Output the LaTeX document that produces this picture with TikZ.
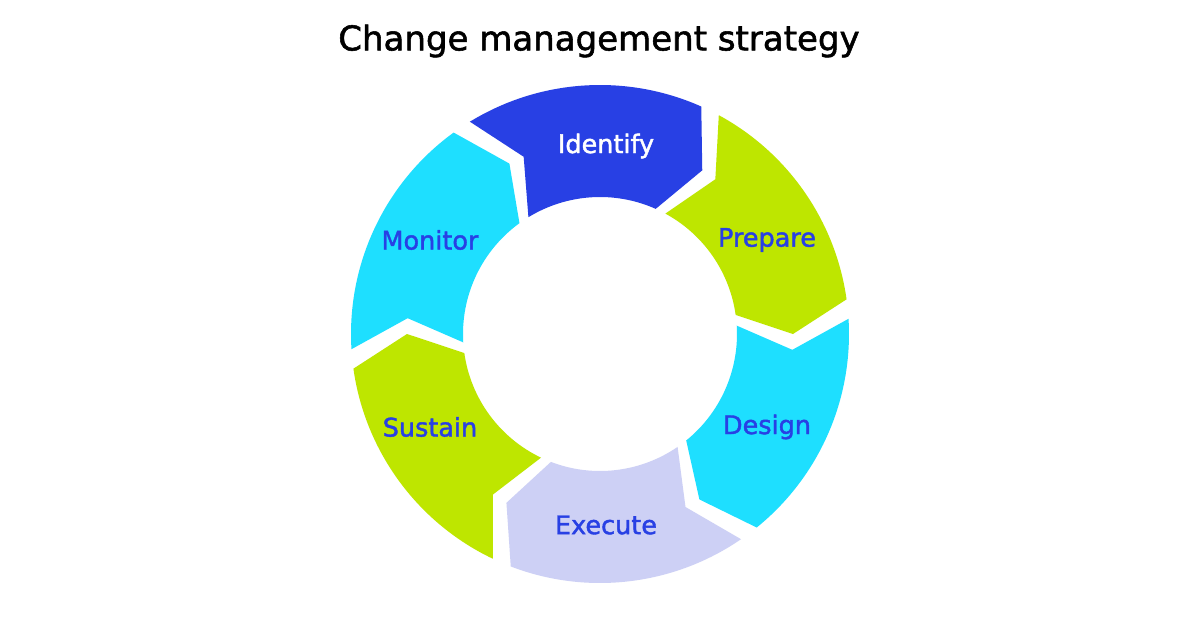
\documentclass[tikz,border=0pt]{standalone}
\usepackage{fontspec}
\setmainfont{DejaVu Sans}
\newfontfamily\medfont{DejaVu Sans}[FakeBold=1.6]
\definecolor{idblue}{RGB}{40,64,228}
\definecolor{limegreen}{RGB}{190,230,0}
\definecolor{skycyan}{RGB}{30,223,255}
\definecolor{paleblue}{RGB}{205,208,245}
\tikzset{
  lbl/.style={text=idblue,font=\medfont\fontsize{25.5}{30}\selectfont},
  heading/.style={text=black,font=\medfont\fontsize{34}{40}\selectfont}
}

\begin{document}
\begin{tikzpicture}[x=1pt,y=1pt]
  \useasboundingbox[fill=white] (-600,-296) rectangle (600,334);
  % ring parts, clockwise
  \fill[idblue] (121.5:249pt) arc[start angle=121.5,end angle=66,radius=249pt] -- (58:193pt) -- (66:137pt) arc[start angle=66,end angle=121.5,radius=137pt] -- (113.3:193pt) -- cycle;
  \fill[limegreen] (61.5:249pt) arc[start angle=61.5,end angle=8,radius=249pt] -- (0:193pt) -- (8:137pt) arc[start angle=8,end angle=61.5,radius=137pt] -- (53.3:193pt) -- cycle;
  \fill[skycyan] (3.5:249pt) arc[start angle=3.5,end angle=-51,radius=249pt] -- (-59:193pt) -- (-51:137pt) arc[start angle=-51,end angle=3.5,radius=137pt] -- (-4.7:193pt) -- cycle;
  \fill[paleblue] (-55.5:249pt) arc[start angle=-55.5,end angle=-111,radius=249pt] -- (-119:193pt) -- (-111:137pt) arc[start angle=-111,end angle=-55.5,radius=137pt] -- (-63.7:193pt) -- cycle;
  \fill[limegreen] (-115.5:249pt) arc[start angle=-115.5,end angle=-172,radius=249pt] -- (-180:193pt) -- (-172:137pt) arc[start angle=-172,end angle=-115.5,radius=137pt] -- (-123.7:193pt) -- cycle;
  \fill[skycyan] (183.5:249pt) arc[start angle=183.5,end angle=126,radius=249pt] -- (118:193pt) -- (126:137pt) arc[start angle=126,end angle=183.5,radius=137pt] -- (175.3:193pt) -- cycle;

  \node[heading] (title) at (-1,293) {Change management strategy};
  \node[lbl,text=white] (identify) at (6,188) {Identify};
  \node[lbl] (prepare) at (167,94) {Prepare};
  \node[lbl] (design) at (167,-93) {Design};
  \node[lbl] (execute) at (6,-191) {Execute};
  \node[lbl] (sustain) at (-170,-93) {Sustain};
  \node[lbl] (monitor) at (-170,94) {Monitor};
\end{tikzpicture}
\end{document}
